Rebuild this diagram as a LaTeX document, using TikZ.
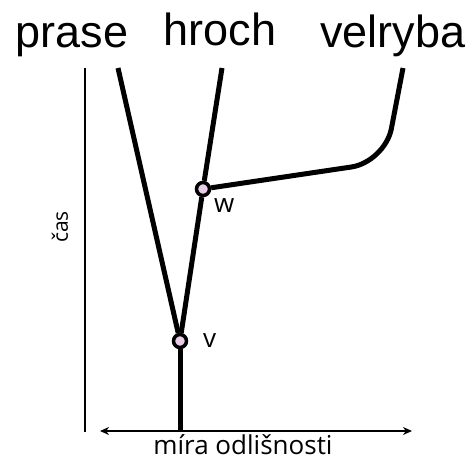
\documentclass[tikz,border=0pt]{standalone}
\usepackage{fontspec}
\setmainfont{Liberation Sans}
\newfontfamily\axisfont{Open Sans}
\usetikzlibrary{positioning,arrows.meta}
\definecolor{ink}{RGB}{0,0,0}
\definecolor{nodepink}{RGB}{232,204,232}
\tikzset{
  taxon/.style={font=\fontsize{45}{54}\selectfont, anchor=base, inner sep=0pt},
  branch/.style={line width=5pt, draw=ink},
  split/.style={circle, draw=ink, line width=3.5pt, fill=nodepink, minimum size=13pt, inner sep=0pt},
  tag/.style={font=\axisfont\fontsize{26}{30}\selectfont, inner sep=0pt},
  axis/.style={line width=1.4pt, draw=ink},
  axisarrow/.style={{Stealth[length=9pt,width=8pt]}-{Stealth[length=9pt,width=8pt]}, line width=1.4pt, draw=ink}
}
\begin{document}
\begin{tikzpicture}[x=1pt,y=-1pt]
  \useasboundingbox (0,0) rectangle (472,461);
  % taxa on top
  \node[taxon] (prase) at (72,47) {prase};
  \node[taxon] (hroch) at (220,45) {hroch};
  \node[taxon] (velryba) at (393,47) {velryba};
  % line ends
  \coordinate (root) at (180,432);
  \coordinate (pEnd) at (118,68);
  \coordinate (hEnd) at (222,68);
  \coordinate (vEnd) at (403,68);
  \coordinate (bend) at (385,162);
  % axes
  \coordinate (tTop) at (85,68);
  \coordinate (tBot) at (85,432);
  \coordinate (dLeft) at (100,431);
  \coordinate (dRight) at (412,431);
  \draw[axis] (tTop) -- (tBot);
  \draw[axisarrow] (dLeft) -- (dRight);
  \node[tag, rotate=90, font=\axisfont\fontsize{21}{24}\selectfont] (cas) at (60,227) {čas};
  \node[tag] (mira) at (243,445) {míra odlišnosti};
  % splits
  \node[split] (V) at (180,341) {};
  \node[split] (W) at (203,189) {};
  \node[tag, anchor=west] (vlab) at (203,341) {v};
  \node[tag, anchor=west] (wlab) at (214,206) {w};
  % tree
  \draw[branch] (root) -- (V);
  \draw[branch] (V) -- (pEnd);
  \draw[branch] (V) -- (W);
  \draw[branch] (W) -- (hEnd);
  \draw[branch, rounded corners=34pt] (W) -- (bend) -- (vEnd);
\end{tikzpicture}
\end{document}
